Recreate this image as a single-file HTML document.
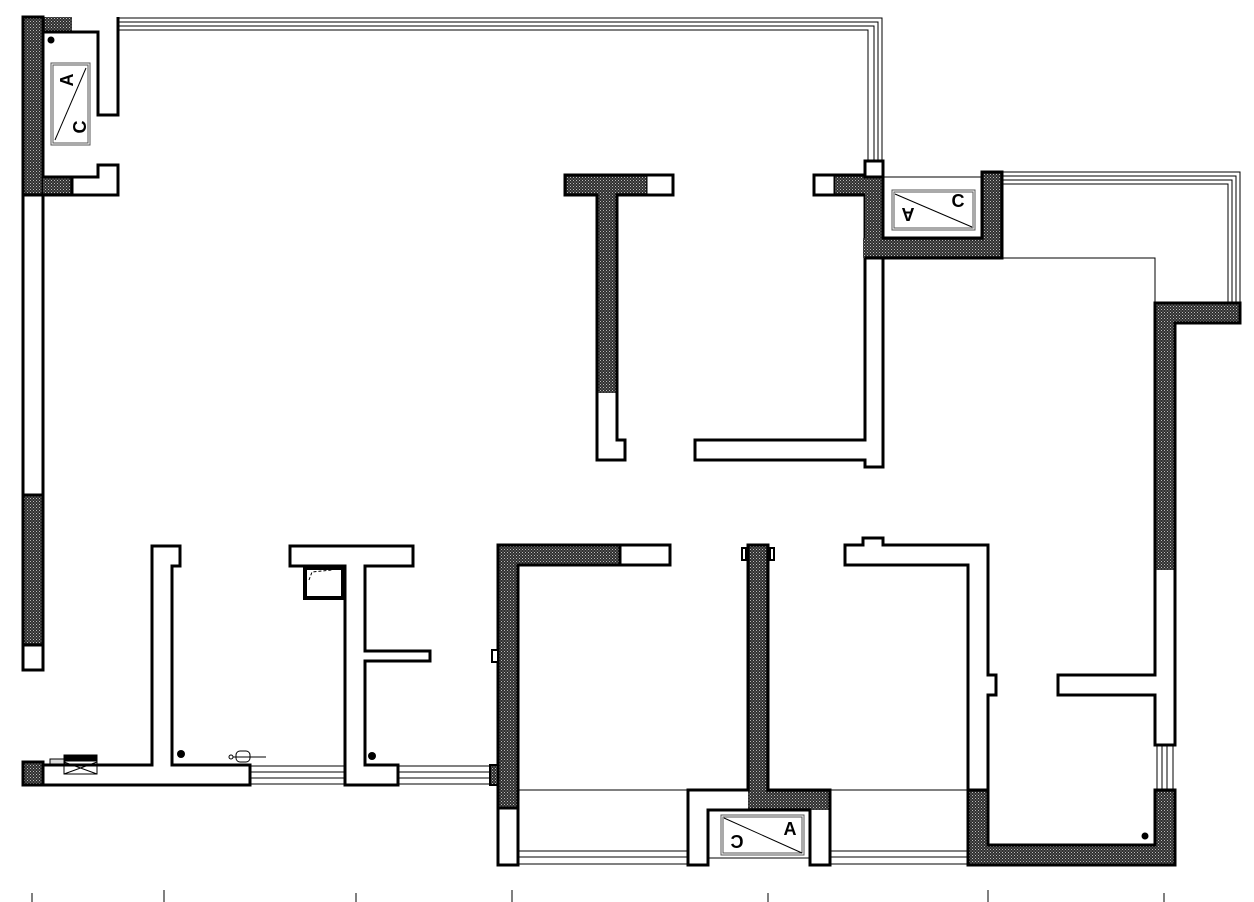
<!DOCTYPE html>
<html><head><meta charset="utf-8"><style>
html,body{margin:0;padding:0;background:#fff;}
svg{display:block;}
text{font-family:"Liberation Sans",sans-serif;font-size:18px;fill:#000;}
</style></head><body>
<svg width="1254" height="902" viewBox="0 0 1254 902" xmlns="http://www.w3.org/2000/svg">
<defs>
<pattern id="h" width="3" height="3" patternUnits="userSpaceOnUse">
<rect width="3" height="3" fill="#2e2e2e"/><rect x="0" y="0" width="1" height="1" fill="#bbb"/><rect x="1.5" y="1.5" width="1" height="1" fill="#999"/>
</pattern>
</defs>
<g stroke="#000" stroke-width="3" fill="#fff">
<!-- top-left block -->
<rect x="23" y="17" width="49" height="15" fill="url(#h)" stroke="none"/>
<rect x="23" y="17" width="20" height="178" fill="url(#h)"/>
<rect x="43" y="177" width="29" height="18" fill="url(#h)" stroke="none"/>
<polyline points="43,177 72,177 72,195 23,195" fill="none"/>
<polyline points="43,32 98,32 98,115 118,115 118,17" fill="none"/>
<polyline points="43,177 98,177 98,165 118,165 118,195 72,195" fill="none"/>
<line x1="23" y1="17" x2="23" y2="195"/>
<!-- left long wall -->
<rect x="23" y="195" width="20" height="300"/>
<rect x="23" y="495" width="20" height="150" fill="url(#h)"/>
<rect x="23" y="645" width="20" height="25"/>
<!-- middle T -->
<polygon points="565,175 673,175 673,195 617,195 617,440 625,440 625,460 597,460 597,195 565,195"/>
<polygon points="565,175 647,175 647,195 617,195 617,393 597,393 597,195 565,195" fill="url(#h)" stroke="none"/>
<polygon points="565,175 673,175 673,195 617,195 617,440 625,440 625,460 597,460 597,195 565,195" fill="none"/>
<line x1="647" y1="176" x2="647" y2="195" stroke-width="1"/>
<!-- right L wall -->
<polygon points="865,161 883,161 883,467 865,467 865,460 695,460 695,440 865,440"/>
<rect x="814" y="175" width="21" height="20"/>
<rect x="835" y="175" width="30" height="20" fill="url(#h)" stroke="none"/>
<path d="M835,175 L865,175 M835,195 L865,195" fill="none"/>
<!-- top-right AC box -->
<rect x="865" y="177" width="18" height="81" fill="url(#h)" stroke="none"/>
<rect x="863" y="238" width="139" height="20" fill="url(#h)" stroke="none"/>
<rect x="982" y="172" width="20" height="86" fill="url(#h)" stroke="none"/>
<polyline points="883,177 883,238 982,238 982,172 1002,172 1002,258 865,258" fill="none"/>
<line x1="883" y1="177" x2="982" y2="177" stroke-width="1"/>
<rect x="865" y="161" width="18" height="16"/>
<!-- right wall -->
<polygon points="1155,303 1240,303 1240,323 1175,323 1175,745 1155,745 1155,695 1058,695 1058,675 1155,675"/>
<polygon points="1155,303 1240,303 1240,323 1175,323 1175,570 1155,570" fill="url(#h)" stroke="none"/>
<polygon points="1155,303 1240,303 1240,323 1175,323 1175,745 1155,745 1155,695 1058,695 1058,675 1155,675" fill="none"/>
<!-- bottom-right room -->
<polygon points="968,790 988,790 988,845 1155,845 1155,790 1175,790 1175,865 968,865" fill="url(#h)"/>
<polygon points="845,545 863,545 863,538 883,538 883,545 988,545 988,675 996,675 996,695 988,695 988,790 968,790 968,565 845,565"/>
<!-- left bottom room -->
<polygon points="498,545 670,545 670,565 518,565 518,808 498,808" fill="url(#h)"/>
<rect x="620" y="545" width="50" height="20"/>
<rect x="498" y="808" width="20" height="57"/>
<rect x="492" y="650" width="6" height="12" stroke-width="2"/>
<rect x="490" y="765" width="8" height="20" fill="url(#h)" stroke-width="2"/>
<!-- middle vertical + AC block -->
<polygon points="688,790 748,790 748,545 768,545 768,790 830,790 830,865 810,865 810,810 708,810 708,865 688,865"/>
<polygon points="748,545 768,545 768,790 830,790 830,810 748,810" fill="url(#h)" stroke="none"/>
<polygon points="688,790 748,790 748,545 768,545 768,790 830,790 830,865 810,865 810,810 708,810 708,865 688,865" fill="none"/>
<rect x="742" y="548" width="4" height="12" stroke-width="2"/>
<rect x="770" y="548" width="4" height="12" stroke-width="2"/>
<!-- bottom-left walls -->
<polygon points="23,762 43,762 43,765 152,765 152,546 180,546 180,566 172,566 172,765 250,765 250,785 23,785"/>
<rect x="23" y="762" width="20" height="23" fill="url(#h)"/>
<polygon points="290,546 413,546 413,566 365,566 365,651 430,651 430,661 365,661 365,765 398,765 398,785 345,785 345,566 290,566"/>
<rect x="305" y="568" width="38" height="30" stroke-width="4"/>
</g>
<!-- windows -->
<g stroke="#000" stroke-width="1" fill="none">
<path d="M118,18 H882 V161 M118,22 H878 V161 M118,26 H874 V161 M118,30 H868 V161"/>
<path d="M1002,172 H1240 V303 M1002,176 H1236 V303 M1002,180 H1232 V303 M1002,184 H1228 V303"/>
<path d="M1002,258 H1155 V303"/>
<path d="M1157,745 V790 M1162,745 V790 M1167,745 V790 M1173,745 V790"/>
<path d="M250,766 H345 M250,772 H345 M250,778 H345 M250,784 H345"/>
<path d="M398,766 H490 M398,772 H490 M398,778 H490 M398,784 H490"/>
<path d="M518,790 H688 M830,790 H968"/>
<path d="M518,851 H688 M518,857 H688 M518,864 H688"/>
<path d="M830,851 H968 M830,857 H968 M830,864 H968"/>
<path d="M708,858 H810"/>
<path d="M309,580 L312,572 L332,570" stroke-dasharray="3,2"/>
</g>
<!-- AC units -->
<g stroke="#555" fill="#fff" stroke-width="1">
<rect x="51" y="63" width="39" height="82"/><rect x="53" y="65" width="35" height="78"/>
<line x1="55" y1="140" x2="86" y2="68" stroke="#000"/>
<rect x="892" y="190" width="83" height="40"/><rect x="894" y="192" width="79" height="36"/>
<line x1="895" y1="194" x2="972" y2="227" stroke="#000"/>
<rect x="721" y="815" width="83" height="40"/><rect x="723" y="817" width="79" height="36"/>
<line x1="724" y1="818" x2="802" y2="853" stroke="#000"/>
</g>
<g font-weight="bold">
<text x="0" y="0" transform="translate(67,80) rotate(-90)" text-anchor="middle" dominant-baseline="central">A</text>
<text x="0" y="0" transform="translate(80,127) rotate(-90)" text-anchor="middle" dominant-baseline="central">C</text>
<text x="958" y="207" text-anchor="middle">C</text>
<text x="0" y="0" transform="translate(908,214) rotate(180)" text-anchor="middle" dominant-baseline="central">A</text>
<text x="790" y="835" text-anchor="middle">A</text>
<text x="0" y="0" transform="translate(737,842) scale(-1,1)" text-anchor="middle" dominant-baseline="central">C</text>
</g>
<!-- dots -->
<g fill="#000">
<circle cx="51" cy="40" r="3.5"/>
<circle cx="181" cy="754" r="4"/>
<circle cx="372" cy="756" r="4"/>
<circle cx="1145" cy="836" r="3.5"/>
</g>
<!-- small fixtures -->
<g stroke="#000" stroke-width="1" fill="none">
<rect x="50" y="759" width="15" height="5" fill="#ddd"/>
<rect x="64" y="755" width="33" height="19"/>
<rect x="65" y="755" width="31" height="6" fill="#000"/>
<path d="M64,762 L97,774 M97,762 L64,774"/>
<rect x="236" y="751" width="14" height="11" rx="4"/>
<circle cx="231" cy="757" r="2"/>
<path d="M233,757 H266"/>
</g>
<!-- bottom ticks -->
<g stroke="#000" stroke-width="1">
<path d="M32,893 V902 M164,890 V902 M356,893 V902 M512,890 V902 M768,893 V902 M988,890 V902 M1164,893 V902"/>
</g>
</svg>
</body></html>
